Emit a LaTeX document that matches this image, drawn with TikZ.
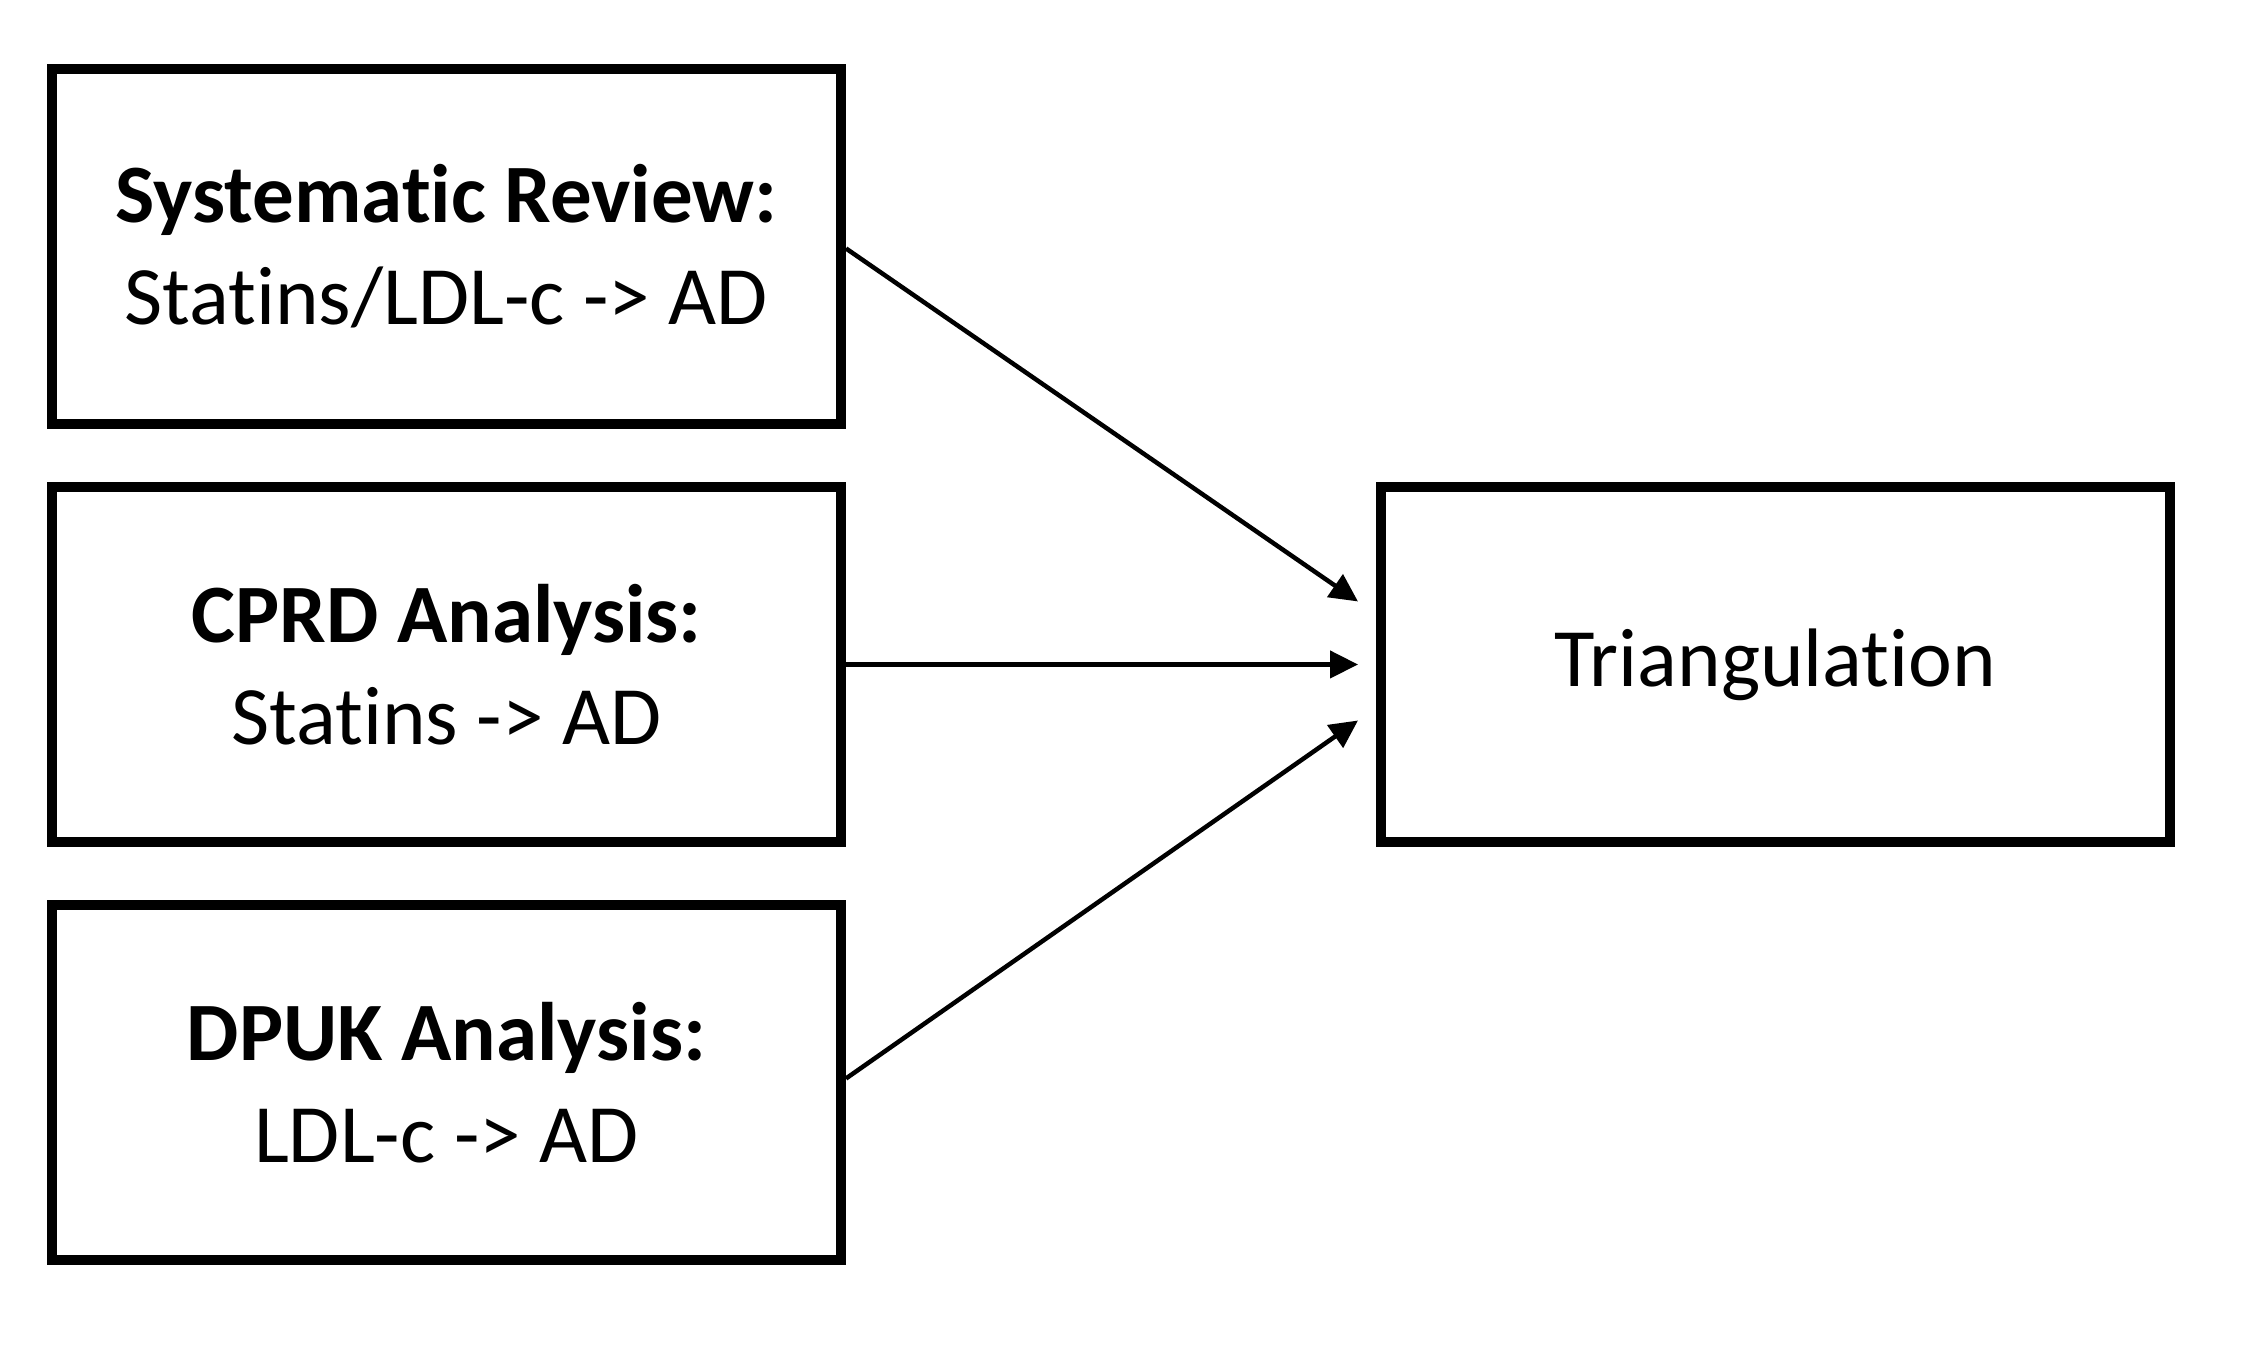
\documentclass[tikz,border=0pt]{standalone}
\usepackage{fontspec}
\setmainfont{Carlito}[Ligatures=NoCommon]
\usetikzlibrary{arrows.meta}

\begin{document}
\begin{tikzpicture}[x=1bp, y=1bp]
   \tikzset{BoxStyle/.style={draw, line width=5bp, minimum width=394.5bp, minimum height=177.5bp,
      inner sep=0pt, align=center, font=\fontsize{41.5bp}{51bp}\selectfont}}
   \tikzset{EdgeStyle/.style={line width=2.25bp, -{Triangle[length=14bp, width=13.5bp]}}}
   \useasboundingbox (0,0) rectangle (1125,672.5);
   \node[BoxStyle] (review) at (223.25,549.25) {\textbf{Systematic Review:}\\Statins/LDL-c -> AD};
   \node[BoxStyle] (cprd) at (223.25,340.25) {\textbf{CPRD Analysis:}\\Statins -> AD};
   \node[BoxStyle] (dpuk) at (223.25,131.25) {\textbf{DPUK Analysis:}\\LDL-c -> AD};
   \node[BoxStyle] (tri) at (887.75,340.25) {Triangulation};
   \coordinate (inReview) at ([xshift=-9bp, yshift=31.5bp]tri.west);
   \coordinate (inCprd) at ([xshift=-9bp]tri.west);
   \coordinate (inDpuk) at ([xshift=-9bp, yshift=-28bp]tri.west);
   \draw[EdgeStyle] ([yshift=-1bp]review.east) -- (inReview);
   \draw[EdgeStyle] (cprd.east) -- (inCprd);
   \draw[EdgeStyle] ([yshift=2bp]dpuk.east) -- (inDpuk);
\end{tikzpicture}
\end{document}
